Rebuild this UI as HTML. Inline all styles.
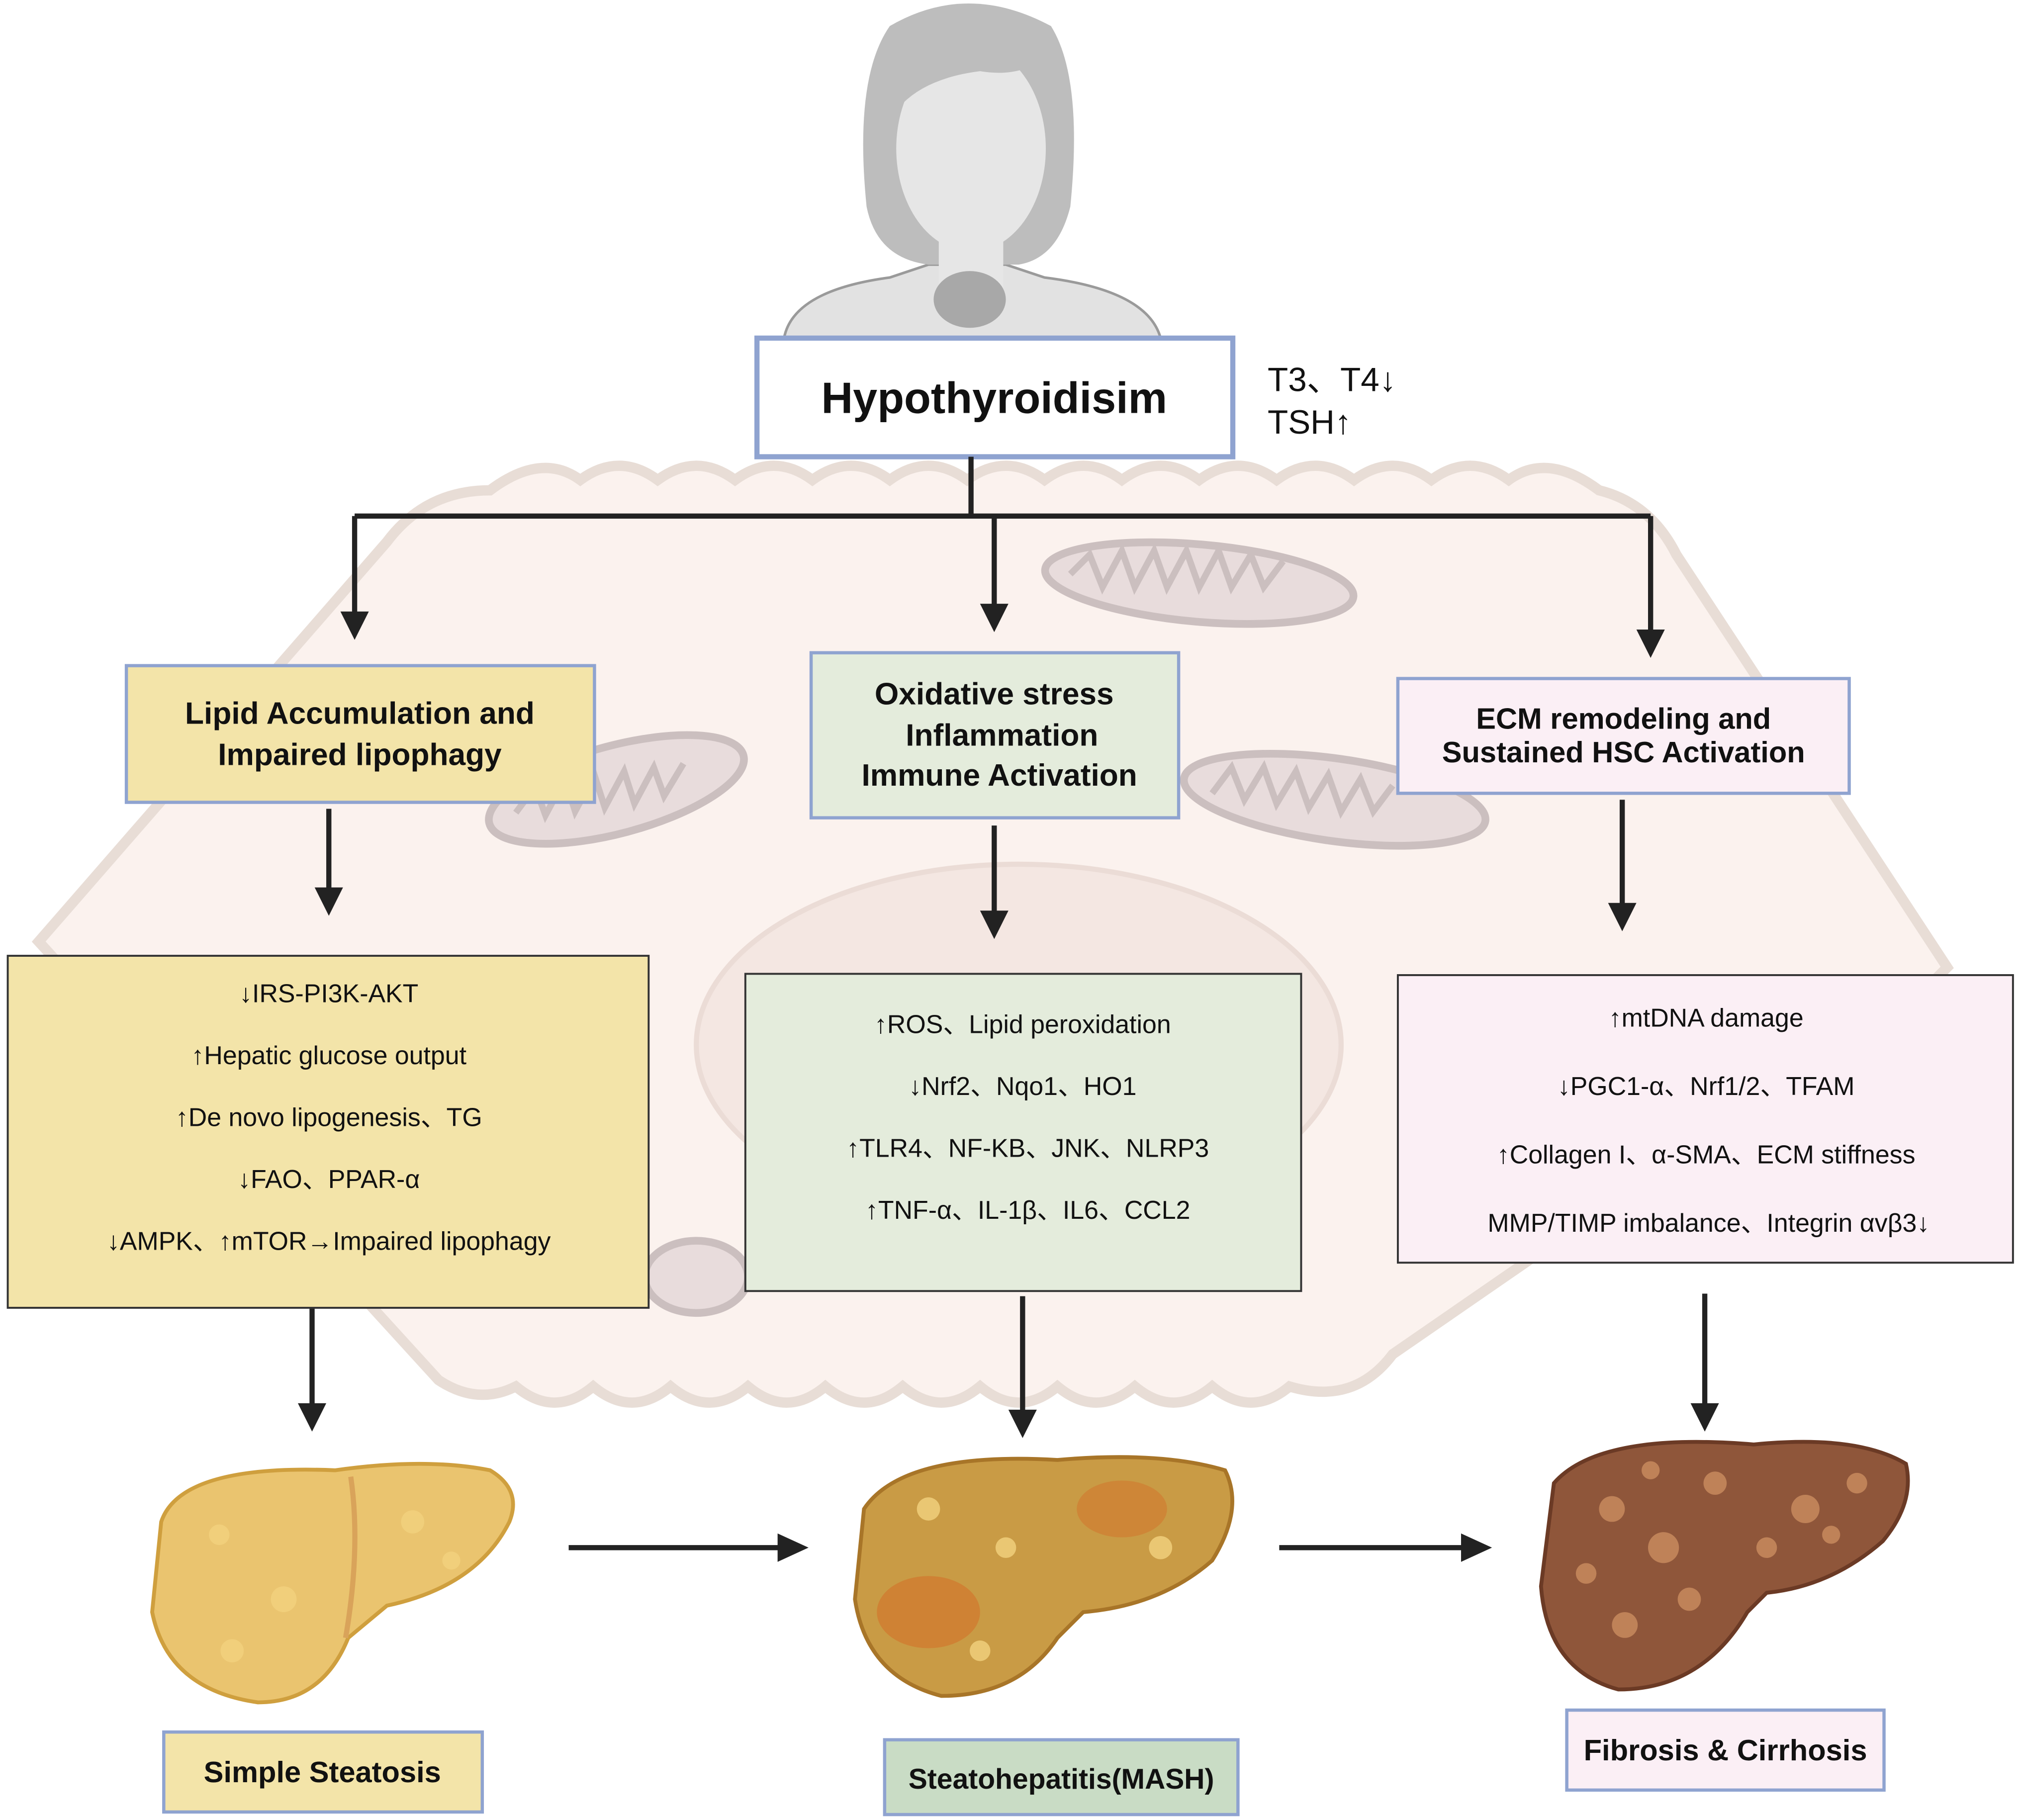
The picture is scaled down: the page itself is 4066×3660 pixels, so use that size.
<!DOCTYPE html>
<html><head><meta charset="utf-8"><style>
html,body{margin:0;padding:0;background:#fff;}
svg{display:block;}
text{font-family:"Liberation Sans","Noto Sans CJK SC",sans-serif;fill:#111;}
.b{font-weight:bold;}
</style></head><body>
<svg width="4066" height="3660" viewBox="0 0 1568 1411" xmlns="http://www.w3.org/2000/svg">
<!-- cell -->
<path d="M30,730 L300,420 Q330,380 380,380 Q420,350 450,372 Q480,350 510,372 Q540,350 570,372 Q600,350 630,372 Q660,350 690,372 Q720,350 750,372 Q780,350 810,372 Q840,350 870,372 Q900,350 930,372 Q960,350 990,372 Q1020,350 1050,372 Q1080,350 1110,372 Q1140,350 1170,372 Q1200,350 1240,380 Q1280,390 1300,430 L1510,750 L1500,760 L1080,1050 Q1050,1090 1000,1075 Q970,1100 940,1075 Q910,1100 880,1075 Q850,1100 820,1075 Q790,1100 760,1075 Q730,1100 700,1075 Q670,1100 640,1075 Q610,1100 580,1075 Q550,1100 520,1075 Q490,1100 460,1075 Q430,1100 400,1075 Q370,1090 340,1070 Z" fill="#fbf2ee" stroke="#e8ddd6" stroke-width="8"/>
<ellipse cx="790" cy="810" rx="250" ry="140" fill="#f4e7e2" stroke="#ebdcd6" stroke-width="4"/>
<!-- mitochondria -->
<g fill="#e8dcdc" stroke="#cbbfbf" stroke-width="6">
<ellipse cx="930" cy="452" rx="120" ry="30" transform="rotate(5 930 452)"/>
<ellipse cx="478" cy="612" rx="102" ry="34" transform="rotate(-15 478 612)"/>
<ellipse cx="1035" cy="620" rx="118" ry="32" transform="rotate(8 1035 620)"/>
<ellipse cx="540" cy="990" rx="40" ry="28"/>
</g>
<g fill="none" stroke="#cbbfbf" stroke-width="5">
<path d="M830,445 l15,-15 l10,25 l15,-28 l10,28 l15,-28 l10,28 l15,-28 l10,28 l15,-28 l10,28 l15,-25 l10,25 l15,-20"/>
<path d="M400,630 l15,-20 l8,22 l15,-28 l8,25 l15,-28 l8,25 l15,-28 l8,25 l15,-28 l8,22 l15,-25"/>
<path d="M940,615 l15,-20 l10,25 l15,-25 l10,28 l15,-25 l10,28 l15,-25 l10,28 l15,-25 l10,25 l15,-20"/>
</g>
<!-- woman -->
<path d="M608,262 Q615,225 690,215 L720,205 L780,205 L810,215 Q890,225 900,262 Z" fill="#e2e2e2" stroke="#9a9a9a" stroke-width="2"/>
<path d="M690,20 Q750,-15 815,20 Q840,60 830,160 Q820,200 790,205 L720,205 Q680,200 672,160 Q662,60 690,20 Z" fill="#bdbdbd"/>
<ellipse cx="753" cy="115" rx="58" ry="80" fill="#e6e6e6"/>
<rect x="728" y="180" width="50" height="45" fill="#e6e6e6"/>
<path d="M695,40 Q750,10 810,45 Q790,60 760,55 Q720,60 700,80 Z" fill="#bdbdbd"/>
<ellipse cx="752" cy="232" rx="28" ry="22" fill="#a8a8a8"/>
<!-- top box -->
<rect x="587" y="262" width="369" height="92" fill="#fff" stroke="#8fa3d0" stroke-width="4"/>
<text x="771" y="320" font-size="34" class="b" text-anchor="middle">Hypothyroidisim</text>
<text x="983" y="303" font-size="26">T3、T4↓</text>
<text x="983" y="336" font-size="26">TSH↑</text>
<!-- connectors -->
<g stroke="#222" stroke-width="4" fill="none">
<path d="M753,354 V400 M275,400 H1280 M275,400 V478 M771,400 V472 M1280,400 V492"/>
<path d="M255,627 V692 M771,640 V710 M1258,620 V704 M242,1014 V1092 M793,1005 V1097 M1322,1003 V1092 M441,1200 H607 M992,1200 H1137"/>
</g>
<g fill="#222">
<path d="M264,474 L286,474 L275,496 Z"/><path d="M760,468 L782,468 L771,490 Z"/><path d="M1269,488 L1291,488 L1280,510 Z"/>
<path d="M244,688 L266,688 L255,710 Z"/><path d="M760,706 L782,706 L771,728 Z"/><path d="M1247,700 L1269,700 L1258,722 Z"/>
<path d="M231,1088 L253,1088 L242,1110 Z"/><path d="M782,1093 L804,1093 L793,1115 Z"/><path d="M1311,1088 L1333,1088 L1322,1110 Z"/>
<path d="M603,1189 L627,1200 L603,1211 Z"/><path d="M1133,1189 L1157,1200 L1133,1211 Z"/>
</g>
<!-- mid boxes -->
<rect x="98" y="516" width="363" height="106" fill="#f3e4a9" stroke="#8fa3d0" stroke-width="2.5"/>
<text x="279" y="561" font-size="24" class="b" text-anchor="middle">Lipid Accumulation and</text>
<text x="279" y="593" font-size="24" class="b" text-anchor="middle">Impaired lipophagy</text>
<rect x="629" y="506" width="285" height="128" fill="#e4ecdc" stroke="#8fa3d0" stroke-width="2.5"/>
<text x="771" y="546" font-size="24" class="b" text-anchor="middle">Oxidative stress</text>
<text x="777" y="578" font-size="24" class="b" text-anchor="middle">Inflammation</text>
<text x="775" y="609" font-size="24" class="b" text-anchor="middle">Immune Activation</text>
<rect x="1084" y="526" width="350" height="89" fill="#fbeff5" stroke="#8fa3d0" stroke-width="2.5"/>
<text x="1259" y="565" font-size="23" class="b" text-anchor="middle">ECM remodeling and</text>
<text x="1259" y="591" font-size="23" class="b" text-anchor="middle">Sustained HSC Activation</text>
<!-- detail boxes -->
<rect x="6" y="741" width="497" height="273" fill="#f3e4a9" stroke="#333" stroke-width="1.5"/>
<g font-size="20" text-anchor="middle">
<text x="255" y="777">↓IRS-PI3K-AKT</text>
<text x="255" y="825">↑Hepatic glucose output</text>
<text x="255" y="873">↑De novo lipogenesis、TG</text>
<text x="255" y="921">↓FAO、PPAR-α</text>
<text x="255" y="969">↓AMPK、↑mTOR→Impaired lipophagy</text>
</g>
<rect x="578" y="755" width="431" height="246" fill="#e4ecdc" stroke="#333" stroke-width="1.5"/>
<g font-size="20" text-anchor="middle">
<text x="793" y="801">↑ROS、Lipid peroxidation</text>
<text x="793" y="849">↓Nrf2、Nqo1、HO1</text>
<text x="797" y="897">↑TLR4、NF-KB、JNK、NLRP3</text>
<text x="797" y="945">↑TNF-α、IL-1β、IL6、CCL2</text>
</g>
<rect x="1084" y="756" width="477" height="223" fill="#fbeff5" stroke="#333" stroke-width="1.5"/>
<g font-size="20" text-anchor="middle">
<text x="1323" y="796">↑mtDNA damage</text>
<text x="1323" y="849">↓PGC1-α、Nrf1/2、TFAM</text>
<text x="1323" y="902">↑Collagen I、α-SMA、ECM stiffness</text>
<text x="1325" y="955">MMP/TIMP imbalance、Integrin αvβ3↓</text>
</g>
<!-- livers -->
<path d="M125,1180 Q140,1135 260,1140 Q330,1130 380,1140 Q405,1155 395,1180 Q370,1230 300,1245 L270,1270 Q250,1320 200,1320 Q130,1310 118,1250 Z" fill="#eac46f" stroke="#cf9f3e" stroke-width="3"/>
<path d="M272,1145 Q280,1200 268,1270" stroke="#d9a35a" stroke-width="4" fill="none"/>
<path d="M670,1170 Q700,1125 820,1132 Q900,1125 950,1140 Q965,1170 940,1210 Q900,1245 840,1250 L820,1270 Q790,1315 730,1315 Q672,1300 663,1240 Z" fill="#c99b45" stroke="#a87528" stroke-width="3"/>
<ellipse cx="720" cy="1250" rx="40" ry="28" fill="#d2782e" opacity="0.7"/>
<ellipse cx="870" cy="1170" rx="35" ry="22" fill="#d2782e" opacity="0.6"/>
<path d="M1205,1150 Q1240,1110 1360,1120 Q1440,1112 1478,1135 Q1485,1165 1460,1195 Q1420,1230 1370,1235 L1355,1250 Q1320,1310 1255,1310 Q1200,1295 1195,1230 Z" fill="#8f563a" stroke="#6b3a25" stroke-width="3"/>
<g fill="#c88a5e" opacity="0.85">
<circle cx="1250" cy="1170" r="10"/><circle cx="1290" cy="1200" r="12"/><circle cx="1330" cy="1150" r="9"/><circle cx="1400" cy="1170" r="11"/><circle cx="1260" cy="1260" r="10"/><circle cx="1440" cy="1150" r="8"/>
<circle cx="1230" cy="1220" r="8"/><circle cx="1310" cy="1240" r="9"/><circle cx="1370" cy="1200" r="8"/><circle cx="1420" cy="1190" r="7"/><circle cx="1280" cy="1140" r="7"/>
</g>
<g fill="#f2d27e" opacity="0.8">
<circle cx="170" cy="1190" r="8"/><circle cx="220" cy="1240" r="10"/><circle cx="320" cy="1180" r="9"/><circle cx="350" cy="1210" r="7"/><circle cx="180" cy="1280" r="9"/>
<circle cx="720" cy="1170" r="9"/><circle cx="780" cy="1200" r="8"/><circle cx="900" cy="1200" r="9"/><circle cx="760" cy="1280" r="8"/>
</g>
<!-- labels -->
<rect x="127" y="1343" width="247" height="62" fill="#f3e4a9" stroke="#8fa3d0" stroke-width="2.5"/>
<text x="250" y="1382" font-size="23" class="b" text-anchor="middle">Simple Steatosis</text>
<rect x="686" y="1349" width="274" height="58" fill="#c9dcc5" stroke="#8fa3d0" stroke-width="2.5"/>
<text x="823" y="1387" font-size="22" class="b" text-anchor="middle">Steatohepatitis(MASH)</text>
<rect x="1215" y="1326" width="246" height="62" fill="#fbeff5" stroke="#8fa3d0" stroke-width="2.5"/>
<text x="1338" y="1365" font-size="23" class="b" text-anchor="middle">Fibrosis &amp; Cirrhosis</text>
</svg>
</body></html>
